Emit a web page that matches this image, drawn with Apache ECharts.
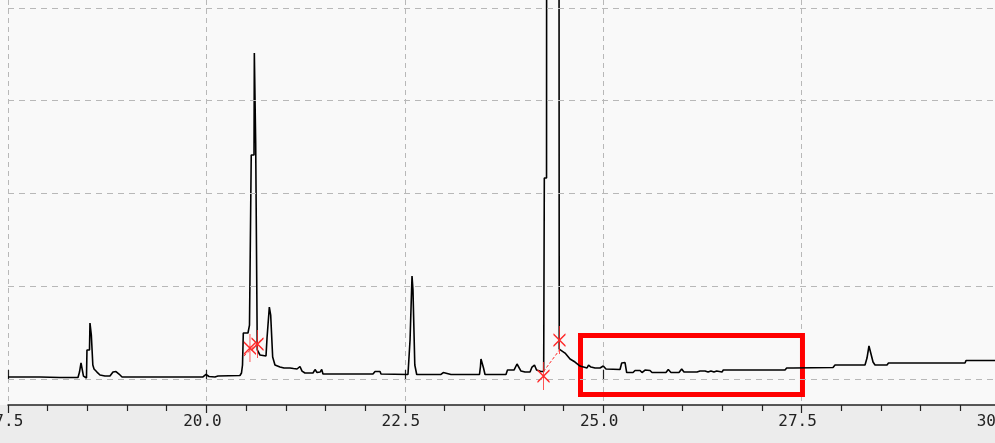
<!DOCTYPE html>
<html><head><meta charset="utf-8">
<script src="https://cdn.jsdelivr.net/npm/echarts@6/dist/echarts.min.js"></script>
<style>html,body{margin:0;padding:0;background:#f9f9f9}#c{width:995px;height:443px}</style>
</head><body><div id="c"></div>
<script>
// retention time (min)
const times = [17.500,17.903,18.155,18.382,18.401,18.420,18.439,18.451,18.470,18.489,18.495,18.527,18.533,18.546,18.550,18.562,18.569,18.584,18.621,18.659,18.722,18.785,18.823,18.861,18.899,18.937,19.138,19.163,19.189,19.428,19.453,19.478,19.957,19.995,20.033,20.108,20.146,20.423,20.442,20.455,20.465,20.524,20.543,20.558,20.565,20.600,20.604,20.616,20.621,20.634,20.641,20.675,20.751,20.764,20.783,20.793,20.808,20.810,20.830,20.835,20.864,20.927,20.978,21.053,21.075,21.098,21.142,21.179,21.205,21.242,21.343,21.369,21.394,21.432,21.453,21.469,21.558,22.099,22.125,22.188,22.200,22.540,22.559,22.566,22.584,22.591,22.601,22.603,22.622,22.626,22.641,22.650,22.956,22.985,23.007,23.082,23.104,23.126,23.441,23.454,23.460,23.485,23.492,23.511,23.775,23.794,23.876,23.914,23.939,23.964,24.015,24.078,24.103,24.134,24.160,24.216,24.250,24.258,24.286,24.292,24.437,24.446,24.468,24.519,24.582,24.645,24.708,24.796,24.815,24.846,24.897,24.960,25.001,25.035,25.212,25.233,25.275,25.296,25.376,25.401,25.426,25.464,25.489,25.527,25.552,25.590,25.615,25.791,25.820,25.854,25.955,25.989,26.018,26.182,26.220,26.245,26.283,26.321,26.358,26.396,26.430,26.497,26.513,27.291,27.312,27.354,27.373,27.392,27.896,27.921,28.299,28.324,28.349,28.374,28.400,28.425,28.576,28.595,29.559,29.572,29.672,29.685,29.704,30.000];
// detector signal (arbitrary units, one grid step = 100)
const signal = [2.2,2.2,1.6,1.6,7.5,17.3,17.3,3.2,1.1,1.1,31.3,31.3,60.4,60.4,47.4,47.4,15.1,10.8,7.5,4.3,3.2,3.2,7.5,8.1,5.4,2.2,2.2,4.3,2.2,2.2,3.8,2.2,2.2,4.9,2.7,2.2,3.2,3.8,6.5,15.1,49.6,49.6,58.2,57.1,241.5,241.5,351.5,351.5,254.4,254.4,31.3,25.9,24.8,44.2,44.2,77.6,77.6,69.0,69.0,23.7,15.1,12.9,11.9,11.9,14.0,11.3,10.8,13.5,8.6,6.5,6.5,10.2,7.0,7.5,10.2,5.4,5.4,5.4,8.1,8.1,5.4,4.9,4.9,42.0,42.0,111.1,111.1,96.0,96.0,15.1,15.1,4.9,4.9,7.0,4.9,4.9,7.0,4.9,4.9,14.0,21.6,21.6,11.9,4.9,4.9,9.7,9.7,16.2,15.1,8.6,7.5,7.5,12.9,15.1,9.7,8.1,8.1,216.7,216.7,1500,1500,32.3,31.3,28.0,21.6,18.3,14.0,11.9,15.1,12.9,11.9,11.9,14.0,10.8,10.2,17.3,17.8,7.0,7.0,9.2,7.5,9.2,7.0,9.7,8.6,9.2,7.0,7.0,10.2,7.0,7.0,10.8,7.5,7.5,8.6,7.5,8.6,7.5,8.6,7.5,8.6,7.5,9.7,9.7,11.9,11.9,10.2,11.9,12.4,15.1,15.1,22.6,35.6,35.6,18.3,15.1,15.1,17.3,17.3,19.9,19.9,18.3,19.9,19.9];
// horizontal grid levels
const gridLevels = [0,100,200,300,400];
// integration markers (time, level)
const markerTimes = [20.549,20.644,24.248,24.449];
const markerLevels = [33.4,37.7,3.2,42.0];
// dashed integration baselines
const baseStartT = [20.474,24.248], baseStartY = [24.8,8.1];
const baseEndT = [20.713,24.449], baseEndY = [44.2,31.3];
// highlighted region
const boxTimes = [24.714,27.511];
const boxLevels = [46.9,-16.7];

const trace = times.map((t,i)=>[t,signal[i]]);
const chart = echarts.init(document.getElementById('c'));
chart.setOption({
  animation:false,
  backgroundColor:'#f9f9f9',
  graphic:[{type:'rect',z:-10,silent:true,shape:{x:0,y:405,width:995,height:38},style:{fill:'#ececec'}}],
  grid:{left:8,right:-5,top:0,bottom:38,containLabel:false,outerBoundsMode:'none'},
  xAxis:[{
    type:'value',min:17.5,max:30,interval:2.5,
    axisLine:{show:true,onZero:false,lineStyle:{color:'#222',width:1.5}},
    axisTick:{show:true,length:8,lineStyle:{color:'#222',width:1.2}},
    minorTick:{show:true,splitNumber:5,length:6,lineStyle:{color:'#222',width:1.2}},
    splitLine:{show:true,lineStyle:{color:'#b8b8b8',type:[5,4]}},
    axisLabel:{formatter:v=>v.toFixed(1),fontFamily:'DejaVu Sans Mono',fontSize:16,color:'#222',margin:9,padding:[0,8,0,0],showMinLabel:true,showMaxLabel:true,alignMinLabel:'center',alignMaxLabel:'center'}
  },{
    type:'value',min:17.5,max:30,interval:2.5,position:'bottom',
    axisLine:{show:false},
    axisTick:{show:true,inside:true,length:9,lineStyle:{color:'#222',width:1.2}},
    axisLabel:{show:false},splitLine:{show:false}
  }],
  yAxis:{type:'value',min:-28,max:408.6,show:false,splitLine:{show:false}},
  series:[
    {type:'line',data:[],z:1,silent:true,
     markLine:{silent:true,symbol:'none',label:{show:false},
       lineStyle:{color:'#b8b8b8',type:[6,5],width:1},
       data:gridLevels.map(v=>({yAxis:v}))}},
    {type:'line',data:trace,showSymbol:false,z:3,silent:true,
     lineStyle:{color:'#000',width:1.6}},
    {type:'lines',coordinateSystem:'cartesian2d',z:4,silent:true,
     lineStyle:{color:'#ff2a2a',width:1,type:[3,2],opacity:1},
     data:baseStartT.map((t,i)=>({coords:[[t,baseStartY[i]],[baseEndT[i],baseEndY[i]]]}))},
    {type:'scatter',z:5,silent:true,
     symbol:'path://M6,0L6,28M0,8L12,20M12,8L0,20',symbolSize:[12,28],
     itemStyle:{color:'rgba(0,0,0,0)',borderColor:'#ff2a2a',borderWidth:1.2,opacity:1},
     data:markerTimes.map((t,i)=>[t,markerLevels[i]])},
    {type:'line',data:[],z:6,silent:true,
     markArea:{silent:true,itemStyle:{color:'rgba(0,0,0,0)',borderColor:'#ff0000',borderWidth:5},
       data:[[{xAxis:boxTimes[0],yAxis:boxLevels[0]},{xAxis:boxTimes[1],yAxis:boxLevels[1]}]]}}
  ]
});
</script></body></html>
